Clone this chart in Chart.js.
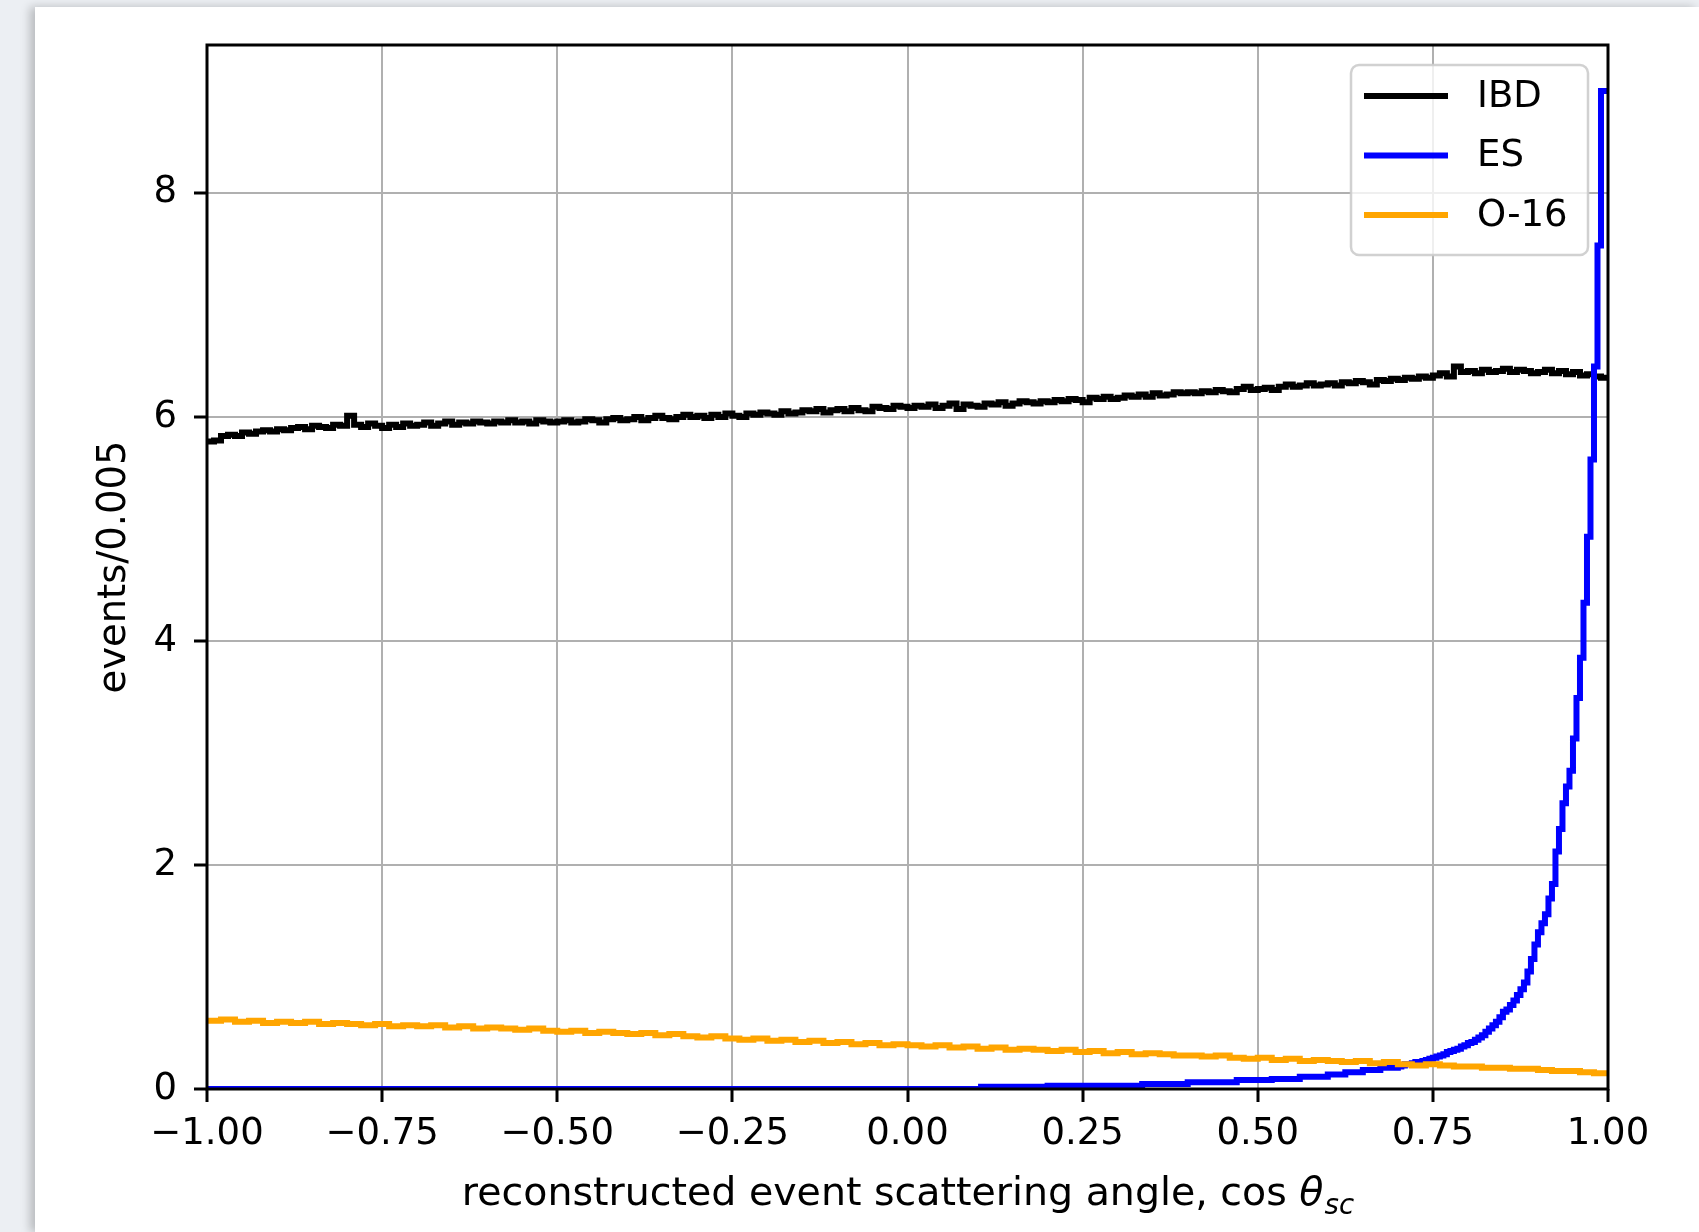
<!DOCTYPE html>
<html><head><meta charset="utf-8">
<script src="https://cdn.jsdelivr.net/npm/chart.js@4.4.1/dist/chart.umd.min.js"></script>
<style>
html,body{margin:0;padding:0;background:#eceff3;width:1699px;height:1232px;overflow:hidden;}
#card{position:absolute;left:35px;top:7px;width:1664px;height:1225px;background:#fff;box-shadow:-5px 0 9px rgba(0,0,0,0.22);}
#c{position:absolute;left:0;top:0;}
</style></head><body>
<div id="card"></div>
<canvas id="c" width="1699" height="1232"></canvas>
<script>
const xTickValues = [-1, -0.75, -0.5, -0.25, 0, 0.25, 0.5, 0.75, 1];
const xTickLabels = ['−1.00', '−0.75', '−0.50', '−0.25', '0.00', '0.25', '0.50', '0.75', '1.00'];
const yTickValues = [0, 2, 4, 6, 8];
const yTickLabels = ['0', '2', '4', '6', '8'];
const seriesNames = ['IBD', 'ES', 'O-16'];
const seriesColors = ['#000000', '#0000ff', '#ffa500'];

// IBD: bins of 0.01 starting at -1
const ibdBinWidth = 0.01;
const ibdValues = [
 5.78,5.79,5.83,5.84,5.83,5.86,5.85,5.87,5.88,5.87,
 5.89,5.88,5.90,5.91,5.89,5.92,5.91,5.90,5.93,5.92,
 6.01,5.93,5.91,5.94,5.92,5.90,5.93,5.91,5.94,5.92,
 5.93,5.95,5.92,5.94,5.96,5.93,5.95,5.94,5.96,5.95,
 5.94,5.96,5.95,5.97,5.95,5.96,5.94,5.97,5.96,5.95,
 5.96,5.97,5.95,5.96,5.98,5.97,5.95,5.98,5.99,5.97,
 5.98,6.00,5.97,5.99,6.01,5.99,5.98,6.00,6.02,6.00,
 6.01,5.99,6.02,6.00,6.03,6.01,6.00,6.03,6.02,6.04,
 6.03,6.02,6.05,6.03,6.04,6.06,6.05,6.07,6.04,6.06,
 6.07,6.05,6.08,6.06,6.05,6.09,6.08,6.07,6.10,6.09,
 6.08,6.10,6.09,6.11,6.08,6.10,6.12,6.07,6.11,6.10,
 6.09,6.12,6.11,6.13,6.10,6.12,6.14,6.13,6.12,6.14,
 6.13,6.15,6.14,6.16,6.15,6.13,6.17,6.16,6.18,6.16,
 6.17,6.19,6.18,6.20,6.18,6.21,6.19,6.20,6.22,6.21,
 6.22,6.21,6.23,6.22,6.24,6.23,6.22,6.25,6.27,6.24,
 6.25,6.26,6.24,6.27,6.29,6.27,6.28,6.30,6.28,6.29,
 6.30,6.28,6.31,6.30,6.32,6.31,6.29,6.33,6.32,6.34,
 6.33,6.35,6.34,6.36,6.35,6.37,6.39,6.36,6.45,6.40,
 6.41,6.39,6.42,6.40,6.41,6.43,6.40,6.42,6.41,6.39,
 6.40,6.42,6.39,6.41,6.38,6.40,6.37,6.38,6.36,6.35
];

// O-16: bins of 0.02 starting at -1
const o16BinWidth = 0.02;
const o16Values = [
 0.61,0.62,0.60,0.61,0.59,0.60,0.59,0.60,0.58,0.59,
 0.58,0.57,0.58,0.56,0.57,0.56,0.57,0.55,0.56,0.54,
 0.55,0.54,0.53,0.54,0.52,0.51,0.52,0.50,0.51,0.50,
 0.49,0.50,0.48,0.49,0.47,0.46,0.47,0.45,0.44,0.45,
 0.43,0.44,0.42,0.43,0.41,0.42,0.40,0.41,0.39,0.40,
 0.39,0.38,0.39,0.37,0.38,0.36,0.37,0.35,0.36,0.35,
 0.34,0.35,0.33,0.34,0.32,0.33,0.31,0.32,0.31,0.30,
 0.30,0.29,0.30,0.28,0.27,0.28,0.26,0.27,0.25,0.26,
 0.25,0.24,0.25,0.23,0.24,0.22,0.21,0.22,0.21,0.20,
 0.20,0.19,0.19,0.18,0.18,0.17,0.16,0.16,0.15,0.14
];

// ES: explicit bin left edges and values
const esEdges = [
 -1.0, 0.105, 0.2, 0.335, 0.4, 0.47, 0.52, 0.56, 0.6, 0.625, 0.65, 0.675,
 0.700,0.705,0.710,0.715,0.720,0.725,0.730,0.735,0.740,0.745,
 0.750,0.755,0.760,0.765,0.770,0.775,0.780,0.785,0.790,0.795,
 0.800,0.805,0.810,0.815,0.820,0.825,0.830,0.835,0.840,0.845,
 0.850,0.855,0.860,0.865,0.870,0.875,0.880,0.885,0.890,0.895,
 0.900,0.905,0.910,0.915,0.920,0.925,0.930,0.935,0.940,0.945,
 0.950,0.955,0.960,0.965,0.970,0.975,0.980,0.985,0.990,0.995
];
const esValues = [
 0, 0.02, 0.03, 0.045, 0.06, 0.08, 0.09, 0.11, 0.13, 0.15, 0.17, 0.19,
 0.20,0.21,0.22,0.22,0.23,0.24,0.24,0.25,0.26,0.27,
 0.28,0.29,0.30,0.31,0.33,0.34,0.35,0.36,0.38,0.39,
 0.41,0.42,0.44,0.46,0.48,0.51,0.54,0.57,0.60,0.64,
 0.69,0.71,0.75,0.79,0.84,0.89,0.95,1.05,1.16,1.29,
 1.40,1.48,1.56,1.70,1.83,2.12,2.32,2.55,2.70,2.84,
 3.13,3.49,3.85,4.34,4.93,5.62,6.45,7.53,8.91,8.91
];

const xMin = -1, xMax = 1, yMin = 0, yMax = 9.32;

function uniformEdges(n, start, w) {
  const e = [];
  for (let i = 0; i < n; i++) e.push(+(start + i * w).toFixed(4));
  return e;
}
function stepPoints(edges, values, end) {
  const pts = edges.map((x, i) => ({x: x, y: values[i]}));
  pts.push({x: end, y: values[values.length - 1]});
  return pts;
}

const ibdPts = stepPoints(uniformEdges(ibdValues.length, xMin, ibdBinWidth), ibdValues, xMax);
const o16Pts = stepPoints(uniformEdges(o16Values.length, xMin, o16BinWidth), o16Values, xMax);
const esPts = stepPoints(esEdges, esValues, xMax);

const FONT = '"DejaVu Sans", "Liberation Sans", sans-serif';

const decor = {
  id: 'decor',
  afterDatasetsDraw(chart) {
    const {ctx, chartArea: a} = chart;
    ctx.save();
    ctx.strokeStyle = '#000';
    ctx.lineWidth = 3;
    ctx.strokeRect(a.left, a.top, a.right - a.left, a.bottom - a.top);
    ctx.restore();
  },
  afterDraw(chart) {
    const {ctx, chartArea: a} = chart;
    ctx.save();
    // legend
    const bw = 237, bh = 190;
    const bx = a.right - 20 - bw, by = a.top + 20;
    ctx.beginPath();
    ctx.roundRect(bx, by, bw, bh, 8);
    ctx.fillStyle = 'rgba(255,255,255,0.8)';
    ctx.fill();
    ctx.strokeStyle = 'rgba(204,204,204,0.9)';
    ctx.lineWidth = 2.5;
    ctx.stroke();
    ctx.font = '37px ' + FONT;
    ctx.textAlign = 'left';
    ctx.textBaseline = 'middle';
    chart.data.datasets.forEach((ds, i) => {
      const y = by + 31 + i * 59.5;
      ctx.beginPath();
      ctx.moveTo(bx + 13, y);
      ctx.lineTo(bx + 97, y);
      ctx.strokeStyle = ds.borderColor;
      ctx.lineWidth = 6;
      ctx.lineCap = 'butt';
      ctx.stroke();
      ctx.fillStyle = '#000';
      ctx.fillText(ds.label, bx + 126, y + 1);
    });
    // x label
    const fs = 39.5;
    const main = 'reconstructed event scattering angle, cos ';
    ctx.font = fs + 'px ' + FONT;
    const w1 = ctx.measureText(main).width;
    ctx.font = 'italic ' + fs + 'px ' + FONT;
    const w2 = ctx.measureText('θ').width;
    ctx.font = 'italic ' + (fs * 0.7) + 'px ' + FONT;
    const w3 = ctx.measureText('sc').width;
    const x0 = (a.left + a.right) / 2 - (w1 + w2 + w3) / 2;
    const base = 1205;
    ctx.textBaseline = 'alphabetic';
    ctx.fillStyle = '#000';
    ctx.font = fs + 'px ' + FONT;
    ctx.fillText(main, x0, base);
    ctx.font = 'italic ' + fs + 'px ' + FONT;
    ctx.fillText('θ', x0 + w1, base);
    ctx.font = 'italic ' + (fs * 0.7) + 'px ' + FONT;
    ctx.fillText('sc', x0 + w1 + w2 + 1, base + 9);
    // y label
    ctx.translate(115, (a.top + a.bottom) / 2);
    ctx.rotate(-Math.PI / 2);
    ctx.font = '38.5px ' + FONT;
    ctx.textAlign = 'center';
    ctx.textBaseline = 'middle';
    ctx.fillText('events/0.005', 0, 0);
    ctx.restore();
  }
};

const mk = (i, pts, order) => ({
  label: seriesNames[i],
  data: pts,
  borderColor: seriesColors[i],
  backgroundColor: seriesColors[i],
  borderWidth: 6,
  borderJoinStyle: 'miter',
  stepped: 'before',
  pointRadius: 0,
  fill: false,
  order: order
});

new Chart(document.getElementById('c'), {
  type: 'line',
  data: {datasets: [mk(0, ibdPts, 3), mk(1, esPts, 2), mk(2, o16Pts, 1)]},
  options: {
    responsive: false,
    animation: false,
    devicePixelRatio: 1,
    layout: {padding: {top: 45, right: 91, left: 0, bottom: 0}},
    plugins: {legend: {display: false}, tooltip: {enabled: false}},
    scales: {
      x: {
        type: 'linear', min: xMin, max: xMax,
        afterBuildTicks: s => { s.ticks = xTickValues.map(v => ({value: v})); },
        afterFit: s => { s.height = 143; },
        ticks: {
          autoSkip: false, maxRotation: 0, minRotation: 0, color: '#000', padding: 10,
          font: {family: FONT, size: 37},
          callback: v => xTickLabels[xTickValues.indexOf(v)]
        },
        grid: {color: '#b0b0b0', lineWidth: 2, drawTicks: true, tickLength: 13, tickColor: '#000', tickWidth: 3},
        border: {display: false}
      },
      y: {
        type: 'linear', min: yMin, max: yMax,
        afterBuildTicks: s => { s.ticks = yTickValues.map(v => ({value: v})); },
        afterFit: s => { s.width = 207; },
        ticks: {
          color: '#000', padding: 17,
          font: {family: FONT, size: 37},
          callback: v => yTickLabels[yTickValues.indexOf(v)]
        },
        grid: {color: '#b0b0b0', lineWidth: 2, drawTicks: true, tickLength: 13, tickColor: '#000', tickWidth: 3},
        border: {display: false}
      }
    }
  },
  plugins: [decor]
});
</script>
</body></html>
